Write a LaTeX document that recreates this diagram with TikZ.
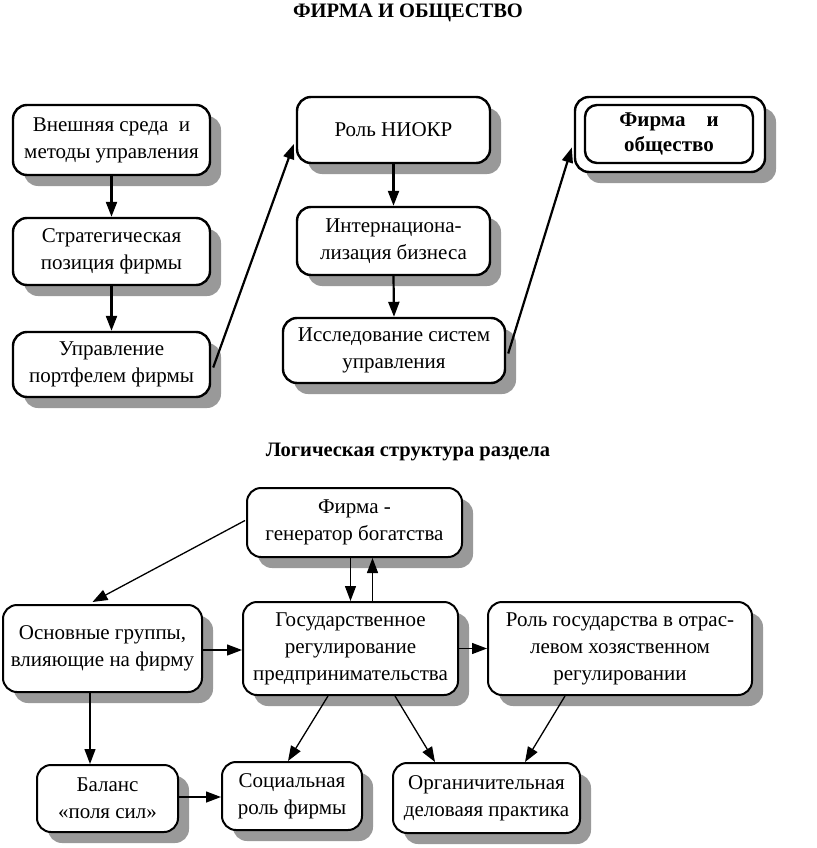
\documentclass[tikz,border=0pt]{standalone}
\usepackage{fontspec}
\setmainfont{Liberation Serif}
\usetikzlibrary{shadows,arrows.meta,calc}
\begin{document}
\begin{tikzpicture}[x=1pt,y=-1pt,
  box/.style={draw, line width=2.4pt, rounded corners=14pt, fill=white, inner sep=0pt,
    align=center, font=\fontsize{21}{27}\selectfont,
    drop shadow={shadow xshift=11pt, shadow yshift=-11pt, fill=black!40, opacity=1}},
  ibox/.style={draw, line width=2.4pt, rounded corners=12pt, fill=white, inner sep=0pt,
    align=center, font=\fontsize{21}{25}\selectfont\bfseries},
  tarr/.style={line width=2.2pt, -{Triangle[length=15pt,width=11pt]}},
  larr/.style={line width=1.3pt, -{Triangle[length=15pt,width=11pt]}},
  title/.style={font=\fontsize{20.5}{24}\selectfont\bfseries}
]
\useasboundingbox (0,0) rectangle (816,848);
\node[title] (t1) at (408,13) {ФИРМА И ОБЩЕСТВО};
\node[title] (t2) at (408,452) {Логическая структура раздела};

% upper part
\node[box, minimum width=197pt, minimum height=70pt] (b1) at (111.5,140) {Внешняя среда\enspace и\\методы управления};
\node[box, minimum width=197pt, minimum height=67pt] (b2) at (111.5,251.5) {Стратегическая\\позиция фирмы};
\node[box, minimum width=197pt, minimum height=65pt] (b3) at (111.5,364.5) {Управление\\портфелем фирмы};
\node[box, minimum width=193pt, minimum height=66pt] (b4) at (393.5,130) {Роль НИОКР};
\node[box, minimum width=193pt, minimum height=68pt] (b5) at (393.5,241) {Интернациона-\\лизация бизнеса};
\node[box, minimum width=222pt, minimum height=65pt] (b6) at (394,350.5) {Исследование систем\\управления};
\node[box, minimum width=190pt, minimum height=75pt] (b7) at (670,134.5) {};
\node[ibox, minimum width=168pt, minimum height=58pt] (b7i) at (669,134) {Фирма\quad и\\общество};

\draw[tarr] (b1.south) -- (b2.north);
\draw[tarr] (b2.south) -- (b3.north);
\draw[tarr] (b4.south) -- (b5.north);
\draw[tarr] (b5.south) -- (b6.north);
\draw[tarr] ($(b3.east)+(2,3)$) -- ($(b4.west)+(-2,14)$);
\draw[tarr] ($(b6.east)+(2,3)$) -- ($(b7.west)+(-2,13)$);

% lower part
\node[box, line width=2pt, minimum width=215pt, minimum height=69pt] (firma) at (354.5,522.5) {Фирма -\\генератор богатства};
\node[box, line width=2pt, minimum width=199pt, minimum height=87pt] (osn) at (102.5,648.5) {Основные группы,\\влияющие на фирму};
\node[box, line width=2pt, minimum width=215pt, minimum height=93pt] (gos) at (350.5,648.5) {Государственное\\регулирование\\предпринимательства};
\node[box, line width=2pt, minimum width=264pt, minimum height=93pt] (rol) at (620,648.5) {Роль государства в отрас-\\левом хозяственном\\регулировании};
\node[box, line width=2pt, minimum width=141pt, minimum height=67pt] (bal) at (107.5,798.5) {Баланс\\«поля сил»};
\node[box, line width=2pt, minimum width=140pt, minimum height=68pt] (soc) at (292,796) {Социальная\\роль фирмы};
\node[box, line width=2pt, minimum width=187pt, minimum height=70pt] (org) at (486.5,798) {Органичительная\\деловаяя практика};

\draw[larr] ($(firma.west)+(-1,-2)$) -- ($(osn.north)+(-10,-2)$);
\draw[larr] ([xshift=-4pt]firma.south) -- ([xshift=-4pt]firma.south |- gos.north);
\draw[larr] ([xshift=18pt]firma.south |- gos.north) -- ([xshift=18pt]firma.south);
\draw[larr] ($(osn.east)+(0,1.5)$) -- ($(gos.west)+(0,1.5)$);
\draw[larr] (gos.east) -- (rol.west);
\draw[larr] ([xshift=-12.5pt]osn.south) -- ([xshift=-12.5pt]osn.south |- bal.north);
\draw[larr] ($(bal.east)+(0,-1.5)$) -- ($(soc.west)+(0,1)$);
\draw[larr] ([xshift=-22.5pt]gos.south) -- ([xshift=-4pt]soc.north);
\draw[larr] ([xshift=44.5pt]gos.south) -- ([xshift=-51.5pt]org.north);
\draw[larr] ([xshift=-55pt]rol.south) -- ([xshift=38.5pt]org.north);
\end{tikzpicture}
\end{document}
